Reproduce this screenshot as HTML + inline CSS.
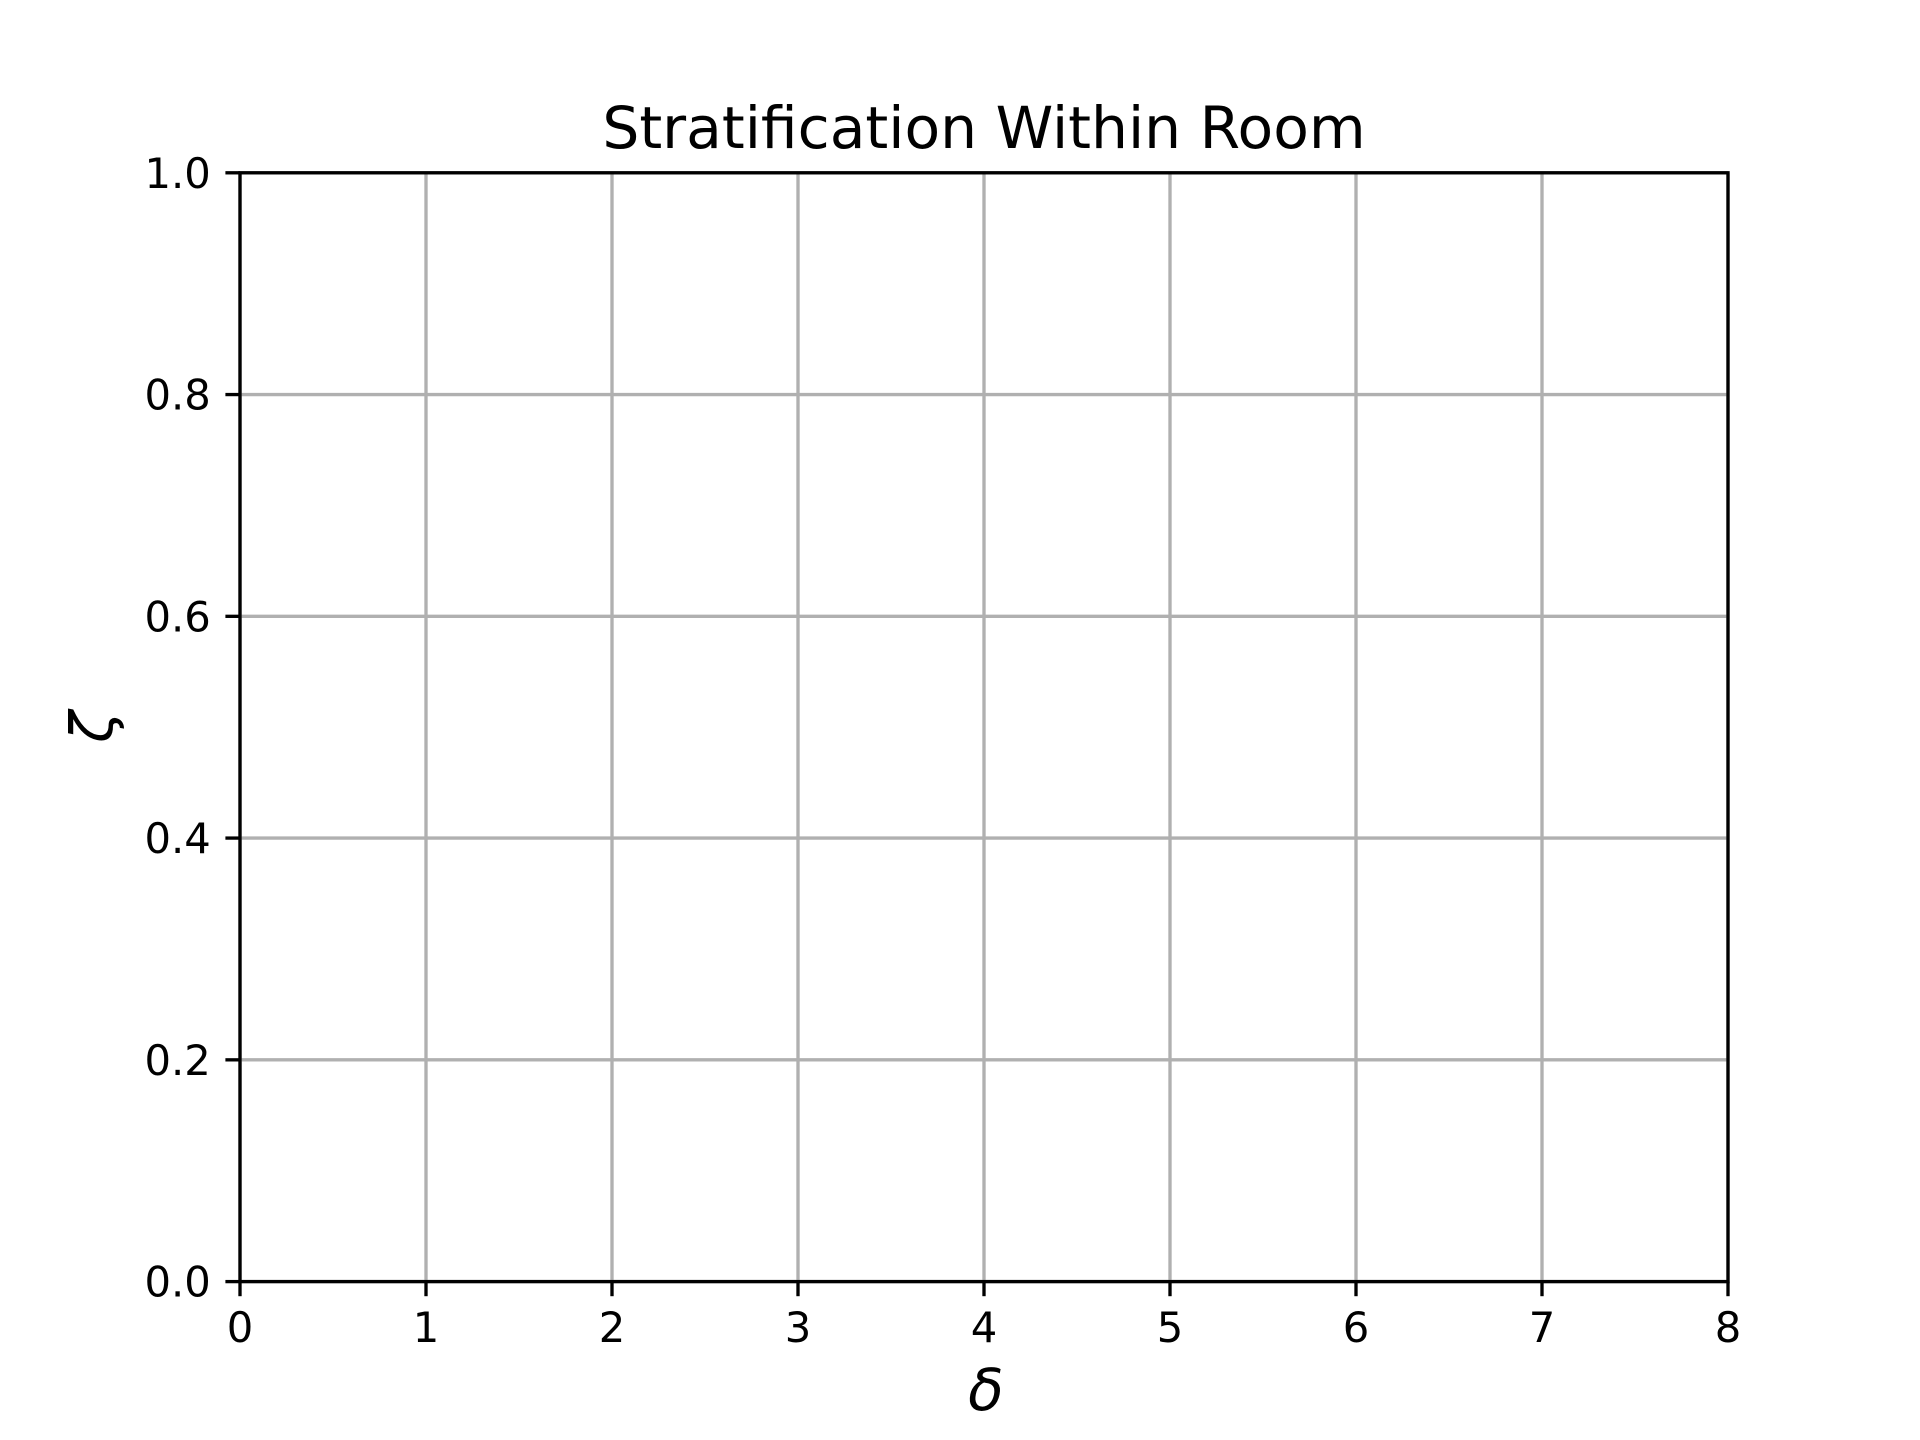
<!DOCTYPE html>
<html><head><meta charset="utf-8"><style>
html,body{margin:0;padding:0;background:#fff;}
svg{display:block;font-family:"DejaVu Sans","Liberation Sans",sans-serif;}
</style></head><body>
<svg id="chart" width="1920" height="1440" viewBox="0 0 1920 1440" xmlns="http://www.w3.org/2000/svg">
<rect width="1920" height="1440" fill="#fff"/>
<text x="984" y="148" text-anchor="middle" font-size="58.3" fill="#000">Stratification Within Room</text>
<g id="grid"></g>
<g id="ticks"></g>
<rect x="240" y="172.8" width="1488" height="1108.8" fill="none" stroke="#000" stroke-width="3.33"/>
<text x="986" y="1410" text-anchor="middle" font-size="58.3" font-style="italic" fill="#000">δ</text>
<text x="0" y="0" transform="translate(112,727) rotate(-90)" text-anchor="middle" font-size="58.3" font-style="italic" fill="#000">ζ</text>
</svg>
<script>
const xTicks = [0,1,2,3,4,5,6,7,8];
const yTicks = [0.0,0.2,0.4,0.6,0.8,1.0];
const xTickLabels = ["0","1","2","3","4","5","6","7","8"];
const yTickLabels = ["0.0","0.2","0.4","0.6","0.8","1.0"];
const L=240,R=1728,T=172.8,B=1281.6;
function xs(v){return L+(v-0)/(8-0)*(R-L);}
function ys(v){return B-(v-0)/(1-0)*(B-T);}
const NS="http://www.w3.org/2000/svg";
const grid=document.getElementById('grid'), ticks=document.getElementById('ticks');
function mk(tag,attrs,parent){const e=document.createElementNS(NS,tag);for(const k in attrs)e.setAttribute(k,attrs[k]);parent.appendChild(e);return e;}
xTicks.forEach((v,i)=>{
  const x=xs(v);
  const g=mk('line',{x1:x,x2:x,y1:T,y2:B,stroke:'#b0b0b0','stroke-width':3.33},grid);
  
  
  const t=mk('line',{x1:x,x2:x,y1:B,y2:B+14.6,stroke:'#000','stroke-width':3.33},ticks);
  
  
  const l=mk('text',{x:x,y:B+29.2+31,'text-anchor':'middle','font-size':41.7,fill:'#000'},ticks);
  l.textContent=xTickLabels[i];
  
  
});
yTicks.forEach((v,i)=>{
  const y=ys(v);
  const g=mk('line',{x1:L,x2:R,y1:y,y2:y,stroke:'#b0b0b0','stroke-width':3.33},grid);
  
  
  const t=mk('line',{x1:L-14.6,x2:L,y1:y,y2:y,stroke:'#000','stroke-width':3.33},ticks);
  
  
  const l=mk('text',{x:L-29.2,y:y+15,'text-anchor':'end','font-size':41.7,fill:'#000'},ticks);
  l.textContent=yTickLabels[i];
  
  
});
</script>
</body></html>
